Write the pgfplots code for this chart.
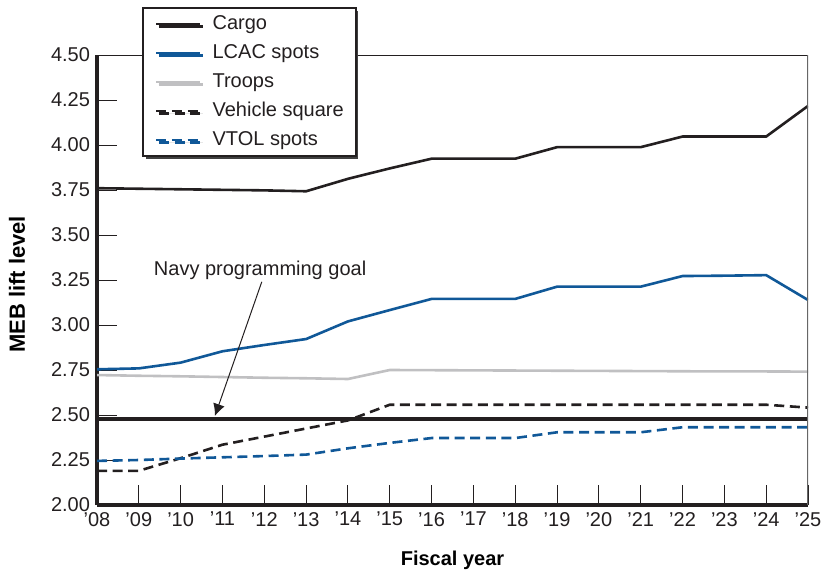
\documentclass[border=0pt]{standalone}
\usepackage{fontspec}
\setmainfont{Liberation Sans}
\usepackage{pgfplots}
\pgfplotsset{compat=1.18}
\usetikzlibrary{arrows.meta,shadows}

\definecolor{randblue}{RGB}{16,88,152}
\definecolor{randgray}{RGB}{192,192,194}
\definecolor{randblack}{RGB}{35,31,32}

\begin{document}
\begin{tikzpicture}
\begin{axis}[
    name=ax,
    scale only axis,
    width=355.5pt, height=225pt,
    xmin=8, xmax=25,
    ymin=2, ymax=4.5,
    axis x line*=bottom,
    axis y line*=left,
    axis line style={-, line width=2pt, randblack},
    xtick={8,...,25},
    xticklabels={’08,’09,’10,’11,’12,’13,’14,’15,’16,’17,’18,’19,’20,’21,’22,’23,’24,’25},
    ytick={2,2.25,...,4.5},
    yticklabel style={/pgf/number format/.cd, fixed, fixed zerofill, precision=2},
    /pgf/number format/assume math mode=true,
    tick align=inside,
    major tick length=10pt,
    tick style={line width=0.5pt, randblack},
    ticklabel style={font=\fontsize{10}{12}\selectfont, text=randblack},
    xlabel={\textbf{Fiscal year}},
    ylabel={\textbf{MEB lift level}},
    xlabel style={at={(axis description cs:0.5,0)}, anchor=center, yshift=-27.5pt},
    ylabel style={at={(axis description cs:-0.1125,0.49)}, anchor=center,
        font=\fontsize{11}{13}\selectfont},
    legend style={at={(0,1)}, anchor=north west, xshift=22.5pt, yshift=24pt,
        draw=randblack, line width=1pt, fill=white,
        drop shadow={shadow xshift=1.3pt, shadow yshift=-1.3pt, fill=black!75, opacity=1},
        inner xsep=6pt, inner ysep=3pt, row sep=4.5pt,
        nodes={inner sep=0pt, text height=7.5pt, text depth=2.5pt, text=randblack},
        /tikz/every odd column/.append style={column sep=5.5pt}},
    legend cell align=left,
    legend image code/.code={\draw[#1] (0pt,0pt) -- (22pt,0pt);},
]

\addplot[randblack, line width=1.3pt] coordinates {
(8,3.760) (9,3.757) (10,3.754) (11,3.751) (12,3.748) (13,3.743)
(14,3.812) (15,3.870) (16,3.924) (17,3.924) (18,3.924)
(19,3.988) (20,3.988) (21,3.988) (22,4.047) (23,4.047) (24,4.047) (25,4.217)
};
\addlegendentry{Cargo}

\addplot[randblue, line width=1.3pt] coordinates {
(8,2.754) (9,2.759) (10,2.791) (11,2.854) (12,2.889) (13,2.922)
(14,3.020) (15,3.083) (16,3.145) (17,3.145) (18,3.145)
(19,3.213) (20,3.213) (21,3.213) (22,3.272) (23,3.274) (24,3.277) (25,3.139)
};
\addlegendentry{LCAC spots}

\addplot[randgray, line width=1.3pt] coordinates {
(8,2.722) (9,2.718) (10,2.715) (11,2.711) (12,2.707) (13,2.704) (14,2.700)
(15,2.750) (16,2.749) (17,2.748) (18,2.747) (19,2.746) (20,2.745)
(21,2.744) (22,2.743) (23,2.742) (24,2.742) (25,2.741)
};
\addlegendentry{Troops}

\addplot[randblack, line width=1.3pt, dash pattern=on 5pt off 2.8pt] coordinates {
(8,2.190) (9,2.190) (10,2.260) (11,2.335) (12,2.380) (13,2.425) (14,2.470)
(15,2.557) (16,2.557) (17,2.557) (18,2.557) (19,2.557) (20,2.557)
(21,2.557) (22,2.557) (23,2.557) (24,2.557) (25,2.541)
};
\addlegendentry{Vehicle square}

\addplot[randblue, line width=1.3pt, dash pattern=on 5pt off 2.8pt] coordinates {
(8,2.245) (9,2.250) (10,2.258) (11,2.265) (12,2.272) (13,2.280)
(14,2.315) (15,2.345) (16,2.372) (17,2.372) (18,2.372)
(19,2.404) (20,2.404) (21,2.404) (22,2.432) (23,2.432) (24,2.432) (25,2.432)
};
\addlegendentry{VTOL spots}

% programming goal
\addplot[randblack, line width=2pt, forget plot] coordinates {(8,2.476) (25,2.476)};

% top and right frame
\draw[randblack, line width=0.8pt] (rel axis cs:0,1) -- (rel axis cs:1,1);
\draw[black!60, line width=0.9pt] (rel axis cs:1,0) -- (rel axis cs:1,1);

\node[font=\fontsize{10}{12}\selectfont, text=randblack] at (axis cs:11.9,3.306) {Navy programming goal};
\draw[randblack, line width=0.5pt, -{Latex[length=6pt,width=6pt]}]
    (axis cs:11.94,3.24) -- (axis cs:10.82,2.495);

\end{axis}
\pgfresetboundingbox
\path (ax.south west) ++(-48.5pt,-34.5pt) rectangle ([shift={(7.5pt,27.5pt)}]ax.north east);
\end{tikzpicture}
\end{document}
